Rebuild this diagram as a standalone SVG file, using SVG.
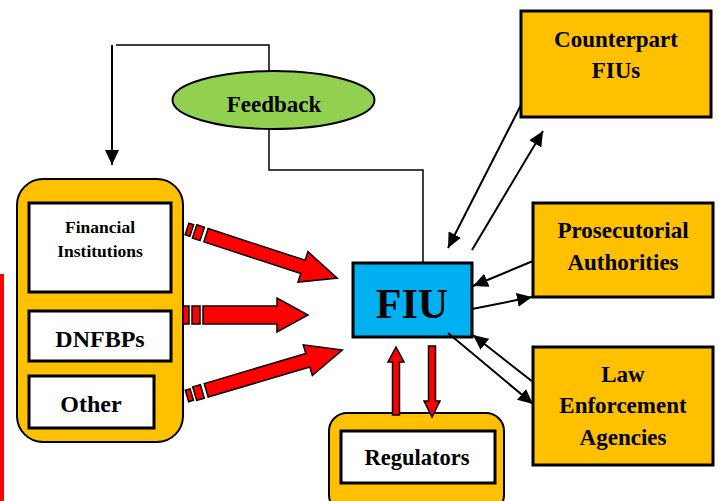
<svg xmlns="http://www.w3.org/2000/svg" width="718" height="501" viewBox="0 0 718 501">
<defs>
<style>
.t{font-family:"Liberation Serif","Times New Roman",serif;font-weight:bold;fill:#000;text-anchor:middle}
.box{fill:#FFC000;stroke:#000;stroke-width:3}
.inner{fill:#fff;stroke:#000;stroke-width:3}
.cont{fill:#FFC000;stroke:#000;stroke-width:2}
.red{fill:#FF0000;stroke:#000;stroke-width:1.5;stroke-linejoin:miter}
.con{fill:none;stroke:#000;stroke-width:2}
.fb{fill:none;stroke:#000;stroke-width:1.5}
</style>
<marker id="ah" markerUnits="userSpaceOnUse" markerWidth="16" markerHeight="14" refX="15" refY="7" orient="auto">
<path d="M0,0 L15,7 L0,14 Z" fill="#000"/>
</marker>
</defs>
<rect x="0" y="274" width="4" height="227" fill="#FF0000"/>
<g id="reporting-entities">
<rect class="cont" x="17" y="179" width="166" height="263" rx="26"/>
<g id="financial-institutions">
<rect class="inner" x="29" y="203" width="142" height="89"/>
<text class="t" x="100" y="233" font-size="17.5">Financial</text>
<text class="t" x="100" y="257" font-size="17.5">Institutions</text>
</g>
<g id="dnfbps">
<rect class="inner" x="29" y="311" width="142" height="50"/>
<text class="t" x="100" y="347" font-size="24">DNFBPs</text>
</g>
<g id="other">
<rect class="inner" x="29" y="376" width="125" height="52"/>
<text class="t" x="91" y="412" font-size="24">Other</text>
</g>
</g>
<g id="fiu">
<rect x="353" y="263" width="119" height="74" fill="#00B0F0" stroke="#000" stroke-width="3"/>
<text class="t" x="412" y="318" font-size="42">FIU</text>
</g>
<g id="regulators">
<rect class="cont" x="329" y="413" width="175" height="100" rx="18"/>
<rect class="inner" x="341" y="431" width="154" height="52"/>
<text class="t" x="417" y="465" font-size="22.5">Regulators</text>
</g>
<g id="counterpart-fius">
<rect class="box" x="521" y="11" width="190" height="106"/>
<text class="t" x="616" y="47" font-size="23">Counterpart</text>
<text class="t" x="616" y="78" font-size="23">FIUs</text>
</g>
<g id="prosecutorial-authorities">
<rect class="box" x="533" y="203" width="180" height="94"/>
<text class="t" x="623" y="238" font-size="23">Prosecutorial</text>
<text class="t" x="623" y="270" font-size="23">Authorities</text>
</g>
<g id="law-enforcement-agencies">
<rect class="box" x="533" y="347" width="180" height="118"/>
<text class="t" x="623" y="382" font-size="23">Law</text>
<text class="t" x="623" y="413" font-size="23">Enforcement</text>
<text class="t" x="623" y="445" font-size="23">Agencies</text>
</g>
<g id="feedback">
<ellipse cx="273.5" cy="100" rx="101" ry="29" fill="#92D050" stroke="#000" stroke-width="2"/>
<text class="t" x="274" y="112" font-size="23">Feedback</text>
</g>
<g id="connectors">
<polyline class="fb" points="116,45 269,45 269,71"/>
<line class="con" x1="112" y1="45" x2="112" y2="165" marker-end="url(#ah)"/>
<polyline class="fb" points="269,129 269,170 423,170 423,263"/>
<line class="con" x1="521" y1="105" x2="448" y2="248" marker-end="url(#ah)"/>
<line class="con" x1="472" y1="250" x2="543" y2="131" marker-end="url(#ah)"/>
<line class="con" x1="533" y1="261" x2="473" y2="286" marker-end="url(#ah)"/>
<line class="con" x1="472" y1="309" x2="532" y2="297" marker-end="url(#ah)"/>
<line class="con" x1="533" y1="382" x2="473" y2="335" marker-end="url(#ah)"/>
<line class="con" x1="448" y1="333" x2="533" y2="404" marker-end="url(#ah)"/>
<g transform="translate(187,229) rotate(18.1)">
<path class="red" d="M0,-6 h5 v12 h-5 Z M8,-7 h8 v14 h-8 Z M20,-7 H122 V-16 L158,0 L122,16 V7 H20 Z"/>
</g>
<g transform="translate(183,315)">
<path class="red" d="M0,-9 h6 v18 h-6 Z M9,-9 h8 v18 h-8 Z M20,-9 H94 V-17 L125,0 L94,17 V9 H20 Z"/>
</g>
<g transform="translate(187,396) rotate(-16.5)">
<path class="red" d="M0,-6 h5 v12 h-5 Z M8,-7 h8 v14 h-8 Z M20,-7 H126 V-16 L162,0 L126,16 V7 H20 Z"/>
</g>
<path class="red" d="M392.5,415 V362 H388 L396,347 L404,362 H399.5 V415 Z"/>
<path class="red" d="M428.5,346 H435.5 V401 H440 L432,417 L424,401 H428.5 Z"/>
</g>
</svg>
